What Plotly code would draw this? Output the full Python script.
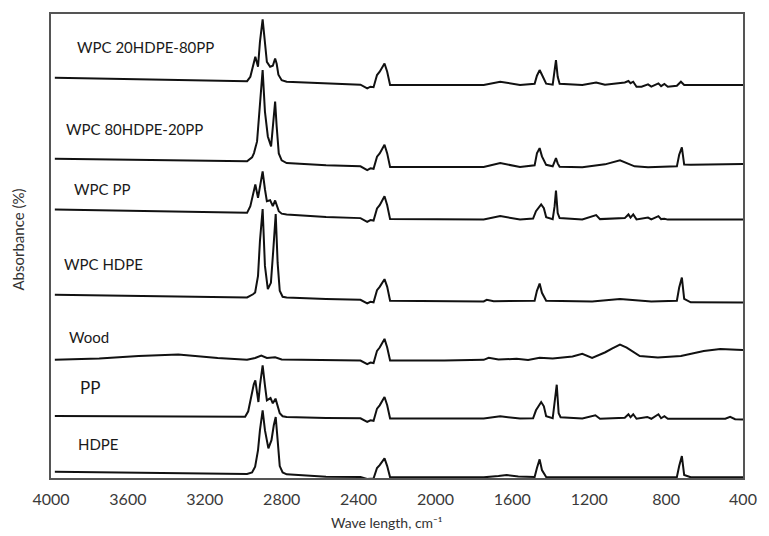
import plotly.graph_objects as go

# ---------------- data (wavenumber cm-1, absorbance a.u., stacked) ----------------
WN_20HDPE_80PP = [3980, 3236, 2980, 2963, 2945, 2937, 2923, 2913, 2899, 2887, 2877, 2860, 2846, 2834, 2826, 2817, 2800, 2774,
                  2569, 2390, 2355, 2338, 2322, 2304, 2290, 2265, 2251, 2236, 1749, 1663, 1560, 1484, 1472, 1458, 1446, 1424,
                  1390, 1380, 1373, 1364, 1354, 1236, 1164, 1118, 1015, 996, 985, 971, 954, 928, 894, 877, 840, 826, 809,
                  791, 744, 723, 706, 400]
A_20HDPE_80PP = [402, 399.3, 398.5, 403, 416, 423, 413, 438, 460.7, 433, 418, 413, 414, 421.3, 416, 405, 399.5, 398,
                 396.3, 395, 391.3, 393, 392.5, 404.7, 408, 416.3, 408, 394.7, 394.7, 398, 394.7, 396, 404, 409.7, 405, 396,
                 395, 408, 419.7, 403, 396, 394.7, 397.3, 395, 397.3, 398.7, 396.5, 398, 393, 393, 395.3, 393, 396.3, 393.5, 395.7,
                 393, 394, 398, 394.7, 394.7]

WN_80HDPE_20PP = [3980, 3236, 2980, 2954, 2944, 2928, 2915, 2899, 2887, 2872, 2855, 2844, 2834, 2826, 2815, 2800, 2774,
                  2569, 2390, 2355, 2338, 2322, 2304, 2290, 2265, 2251, 2236, 1749, 1663, 1560, 1484, 1472, 1458, 1446, 1424,
                  1390, 1380, 1373, 1364, 1354, 1236, 1169, 1118, 1040, 964, 894, 744, 732, 718, 706, 672, 400]
A_80HDPE_20PP = [320.7, 318.7, 318, 322, 326.3, 338, 368, 409.7, 368, 343, 333, 353, 378, 353, 326, 319, 316.3,
                 314, 313, 309.3, 311, 310.5, 322.7, 326, 334.7, 326, 312.3, 312.3, 316.3, 312.3, 314, 326, 331.3, 323, 314.5,
                 313, 318, 321.3, 316, 312.5, 312, 314, 315, 319, 313, 312, 313, 324.7, 332, 314.7, 314.5, 315.3]

WN_WPC_PP = [3980, 3236, 2980, 2963, 2945, 2937, 2923, 2913, 2899, 2887, 2877, 2860, 2846, 2834, 2826, 2815, 2800, 2774,
             2569, 2390, 2355, 2338, 2322, 2304, 2290, 2265, 2251, 2236, 1749, 1663, 1560, 1492, 1477, 1450, 1436, 1424,
             1390, 1380, 1373, 1364, 1354, 1236, 1164, 1144, 1015, 996, 985, 971, 954, 894, 877, 840, 826, 809, 791, 400]
A_WPC_PP = [269.7, 267.5, 266.3, 273, 288, 294.7, 281.3, 293, 308, 290, 278, 279, 273, 278.7, 275, 268, 265.5, 264.7,
            262, 261, 257.3, 259, 258.5, 270.7, 274, 283, 274, 260, 259.7, 263, 259.7, 260.5, 268, 274.7, 271, 262,
            260, 273, 288.7, 266, 261, 259.7, 264, 260, 261, 264.7, 261.5, 264.7, 259.7, 261.5, 259.7, 263, 260, 260.3, 259.5, 259.7]

WN_WPC_HDPE = [3980, 3236, 2980, 2949, 2938, 2923, 2913, 2899, 2887, 2872, 2856, 2844, 2831, 2821, 2810, 2795, 2774,
               2569, 2390, 2355, 2338, 2322, 2304, 2290, 2265, 2251, 2236, 1749, 1733, 1697, 1484, 1472, 1458, 1446, 1424,
               1185, 1040, 877, 744, 732, 718, 706, 672, 400]
A_WPC_HDPE = [184, 182, 181.3, 184.5, 186.3, 203, 238, 270, 213, 189.7, 196, 228, 265, 216, 188, 182, 181.3,
              179.7, 179, 175.3, 177, 176.5, 188.7, 192, 199.7, 192, 178, 177.3, 179, 177.5, 178, 188, 195.3, 186, 178,
              177.3, 179.7, 177.3, 178, 191.3, 201.3, 180, 176.5, 176.3]

WN_WOOD = [3980, 3749, 3544, 3338, 3133, 2980, 2938, 2906, 2877, 2834, 2800, 2569, 2390, 2355, 2338, 2322, 2304, 2290,
           2265, 2251, 2236, 1954, 1749, 1723, 1672, 1578, 1518, 1458, 1390, 1287, 1236, 1185, 1116, 1082, 1040, 1005,
           937, 843, 723, 604, 518, 432, 400]
A_WOOD = [118.7, 120, 122.5, 124, 120.5, 118.7, 120.5, 123, 120.5, 121.3, 119, 118.7, 118, 114.3, 116, 115.5, 127.7, 131,
          139.7, 131, 118, 118, 118.7, 120.7, 119, 119.7, 118.5, 120.7, 120, 122, 124.7, 120.7, 126.3, 130, 134, 131,
          122.5, 121, 122.5, 127.5, 129.5, 128.7, 128.5]

WN_PP = [3980, 3236, 2990, 2974, 2959, 2945, 2937, 2921, 2913, 2899, 2887, 2877, 2858, 2846, 2832, 2821, 2810, 2795, 2774,
         2569, 2390, 2355, 2338, 2322, 2304, 2290, 2265, 2251, 2236, 1749, 1663, 1560, 1492, 1477, 1450, 1436, 1424,
         1390, 1380, 1369, 1359, 1349, 1236, 1168, 1144, 1015, 996, 985, 971, 954, 898, 877, 840, 826, 809, 791,
         492, 467, 441, 400]
A_PP = [62.3, 61.5, 61.5, 67, 83, 94, 98, 76.3, 93, 113, 93, 78, 80.3, 75, 79.7, 71, 65, 62, 61.3,
        60.3, 60, 56.3, 58, 57.5, 69.7, 73, 81.3, 73, 59.7, 59.7, 62, 59.7, 60, 68, 76.3, 72, 62,
        60, 78, 93.7, 65, 61, 59.7, 63, 59.5, 60.5, 64, 61, 64, 59.5, 61.3, 59.5, 64, 60, 62, 59.5,
        59.5, 61.5, 59, 58.7]

WN_HDPE = [3980, 3236, 2980, 2954, 2938, 2923, 2913, 2899, 2887, 2869, 2853, 2841, 2831, 2821, 2810, 2795, 2774,
           2569, 2390, 2355, 2338, 2322, 2304, 2290, 2265, 2251, 2236, 1749, 1672, 1629, 1569, 1484, 1472, 1458, 1446, 1424,
           1185, 744, 732, 718, 706, 672, 400]
A_HDPE = [6.3, 4.5, 4, 5.5, 11.3, 28, 48, 68, 48, 29.7, 38, 53, 61.3, 38, 12, 5.5, 3.7,
          1.3, 1, -1, -0.5, -0.5, 10, 13, 19.7, 12, 0.7, 0.7, 2, 3, 1.5, 1, 10, 18.7, 8, 1,
          0.7, 1, 12, 22, 3, 0.7, 0.7]

SAMPLE_NAMES = ["WPC 20HDPE-80PP", "WPC 80HDPE-20PP", "WPC PP", "WPC HDPE", "Wood", "PP", "HDPE"]
SERIES = [(WN_20HDPE_80PP, A_20HDPE_80PP), (WN_80HDPE_20PP, A_80HDPE_20PP), (WN_WPC_PP, A_WPC_PP),
          (WN_WPC_HDPE, A_WPC_HDPE), (WN_WOOD, A_WOOD), (WN_PP, A_PP), (WN_HDPE, A_HDPE)]

X_TICKS = [4000, 3600, 3200, 2800, 2400, 2000, 1600, 1200, 800, 400]
X_TITLE = "Wave length, cm\u207b\u00b9"
Y_TITLE = "Absorbance (%)"

# label placement (paper coords) and font sizes
LABEL_POS = [(0.0342, 0.929), (0.0185, 0.753), (0.0309, 0.622), (0.0152, 0.461),
             (0.0224, 0.303), (0.0385, 0.196), (0.0356, 0.073)]
LABEL_SIZE = [15, 15, 15, 15, 15, 17, 15]

FONT = "Lato, 'Liberation Sans', Arial, sans-serif"

fig = go.Figure()
for name, (wn, a) in zip(SAMPLE_NAMES, SERIES):
    fig.add_trace(go.Scatter(x=wn, y=a, mode="lines", name=name,
                             line=dict(color="#111111", width=2), showlegend=False, hoverinfo="skip"))

annotations = []
for name, (px, py), fs in zip(SAMPLE_NAMES, LABEL_POS, LABEL_SIZE):
    annotations.append(dict(text=name, xref="paper", yref="paper", x=px, y=py, xanchor="left", yanchor="middle",
                            showarrow=False, font=dict(family=FONT, size=fs, color="#1a1a1a")))
annotations.append(dict(text=X_TITLE, xref="paper", yref="paper", x=0.4843, y=-0.0966, xanchor="center",
                        yanchor="middle", showarrow=False, font=dict(family=FONT, size=14, color="#333333")))
annotations.append(dict(text=Y_TITLE, xref="paper", yref="paper", x=-0.047, y=0.515, xanchor="center",
                        yanchor="middle", textangle=-90, showarrow=False, font=dict(family=FONT, size=15, color="#333333")))

fig.update_layout(
    width=769, height=536,
    margin=dict(l=51, r=16, t=12, b=58),
    paper_bgcolor="white", plot_bgcolor="white",
    annotations=annotations,
    hovermode=False,
)
fig.update_xaxes(range=[4000, 400], tickvals=X_TICKS, ticktext=[str(t) for t in X_TICKS],
                 showgrid=False, zeroline=False, showline=True, mirror=True, linecolor="#555555", linewidth=1.5,
                 ticks="", ticklabelstandoff=6, tickfont=dict(family=FONT, size=16, color="#3a3a3a"))
fig.update_yaxes(range=[0, 466], showticklabels=False, showgrid=False, zeroline=False, showline=True, mirror=True,
                 linecolor="#555555", linewidth=1.5, ticks="")

fig.write_html("out.html")
